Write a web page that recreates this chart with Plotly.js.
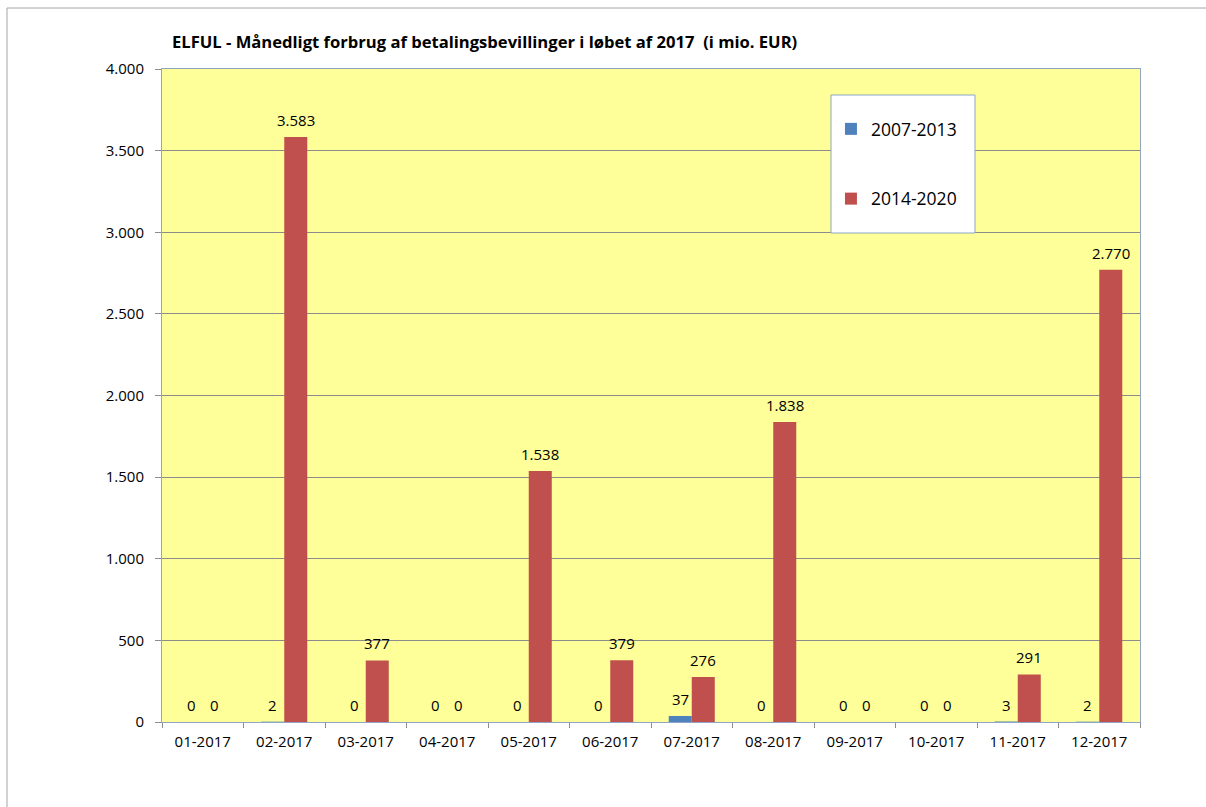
<!DOCTYPE html>
<html>
<head>
<meta charset="utf-8">
<script src="https://cdn.plot.ly/plotly-3.0.1.min.js"></script>
<style>html,body{margin:0;padding:0;background:#fff;}#chart{width:1206px;height:807px;}</style>
</head>
<body>
<div id="chart"></div>
<script>
var months = ["01-2017","02-2017","03-2017","04-2017","05-2017","06-2017","07-2017","08-2017","09-2017","10-2017","11-2017","12-2017"];
var series1Name = "2007-2013";
var series1 = [0, 2, 0, 0, 0, 0, 37, 0, 0, 0, 3, 2];
var series2Name = "2014-2020";
var series2 = [0, 3583, 377, 0, 1538, 379, 276, 1838, 0, 0, 291, 2770];
var yTicks = [0, 500, 1000, 1500, 2000, 2500, 3000, 3500, 4000];

function fmt(v){
  return String(Math.round(v)).replace(/\B(?=(\d{3})+(?!\d))/g, ".");
}

var FONT = "Open Sans, Noto Sans, sans-serif";
var blue = "#4F81BD", red = "#C0504D";

var traces = [
  {type:"bar", name:series1Name, x:months, y:series1, marker:{color:blue}, legendgroup:"a", hoverinfo:"x+y"},
  {type:"bar", name:series2Name, x:months, y:series2, marker:{color:red}, legendgroup:"b", hoverinfo:"x+y"}
];

var ann = [];
var half = 11.5;
months.forEach(function(m, i){
  ann.push({x:m, y:series1[i], xref:"x", yref:"y", text:fmt(series1[i]), showarrow:false,
    xanchor:"center", yanchor:"bottom", xshift:-half, yshift:5, font:{family:FONT, size:15, color:"#000"}});
  ann.push({x:m, y:series2[i], xref:"x", yref:"y", text:fmt(series2[i]), showarrow:false,
    xanchor:"center", yanchor:"bottom", xshift:half, yshift:5, font:{family:FONT, size:15, color:"#000"}});
});

var layout = {
  width:1206, height:807,
  margin:{l:162, r:66, t:69, b:85},
  paper_bgcolor:"#ffffff",
  plot_bgcolor:"#FFFF99",
  separators:",.",
  font:{family:FONT, size:15, color:"#000"},
  title:{text:"<b>ELFUL - Månedligt forbrug af betalingsbevillinger i løbet af 2017 \u00a0(i mio. EUR)</b>",
    font:{family:FONT, size:16.6, color:"#000"}, xref:"container", yref:"container",
    x:172/1206, xanchor:"left", y:1-42/807, yanchor:"middle"},
  barmode:"group", bargap:0.435, bargroupgap:0,
  showlegend:true,
  legend:{x:0.684, xanchor:"left", y:0.9357, yanchor:"top", bgcolor:"rgba(0,0,0,0)", borderwidth:0,
    font:{family:FONT, size:17.5, color:"#000"}, tracegroupgap:44, itemwidth:30},
  xaxis:{type:"category", tickson:"boundaries", ticks:"outside", ticklen:5, tickcolor:"#8c8c8c",
    showline:true, linecolor:"#8fa5c3", mirror:true, showgrid:false, zeroline:false,
    tickfont:{family:FONT, size:15, color:"#000"}, ticklabelstandoff:6, fixedrange:true},
  yaxis:{range:[0,4000], tickvals:yTicks, ticktext:yTicks.map(fmt), ticks:"outside", ticklen:6, tickcolor:"#8c8c8c",
    showline:true, linecolor:"#8fa5c3", mirror:true, showgrid:true, gridcolor:"#8c8c8c", gridwidth:1,
    zeroline:false, tickfont:{family:FONT, size:15, color:"#000"}, ticklabelstandoff:8, fixedrange:true},
  annotations:ann,
  shapes:[
    {type:"rect", xref:"paper", yref:"paper", x0:(7-162)/978, x1:1.2, y0:-0.3, y1:(722-8)/653,
      line:{color:"#a6a6a6", width:1}, fillcolor:"rgba(0,0,0,0)", layer:"below"},
    {type:"rect", xref:"paper", yref:"paper", x0:(831-162)/978, x1:(975-162)/978, y0:(722-233)/653, y1:(722-95)/653,
      line:{color:"#8fa5c3", width:1}, fillcolor:"#ffffff", layer:"above"}
  ]
};

Plotly.newPlot("chart", traces, layout, {displayModeBar:false, staticPlot:true});
</script>
</body>
</html>
